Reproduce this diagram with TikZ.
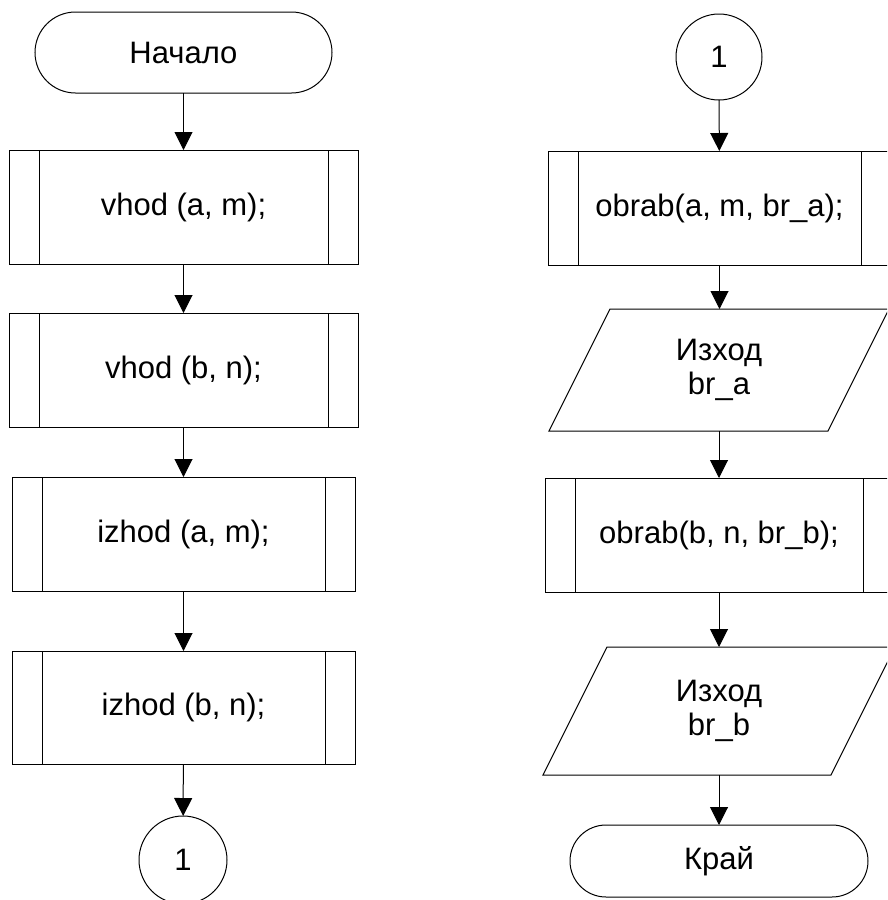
\documentclass[tikz,border=0pt]{standalone}
\usepackage{fontspec}
\setmainfont{Liberation Sans}
\usetikzlibrary{arrows.meta}
\begin{document}
\begin{tikzpicture}[x=1pt,y=-1pt,
  every node/.style={inner sep=0pt,outer sep=0pt,font=\fontsize{31}{34}\selectfont},
  base/.style={line width=1pt,draw=black},
  terminal/.style={base,rectangle,minimum width=#1},
  subproc/.style={base,rectangle,minimum height=114pt,
    path picture={
      \draw[line width=1pt]
        ([xshift=30pt]path picture bounding box.north west) --
        ([xshift=30pt]path picture bounding box.south west)
        ([xshift=-30pt]path picture bounding box.north east) --
        ([xshift=-30pt]path picture bounding box.south east);}},
  connector/.style={base,circle,minimum size=#1},
  iobox/.style={rectangle,align=center},
  flow/.style={line width=1pt,-{Triangle[length=18pt,width=18pt]}}]
\useasboundingbox (0,0) rectangle (887,900);
\clip (0,0) rectangle (887,900);

% left column
\node[terminal=297pt,minimum height=81pt,rounded corners=40.5pt] (start) at (183.5,52.5) {Начало};
\node[subproc,minimum width=349pt] (b1) at (183.5,207) {vhod (a, m);};
\node[subproc,minimum width=349pt] (b2) at (183.5,370) {vhod (b, n);};
\node[subproc,minimum width=343pt] (b3) at (183.5,534) {izhod (a, m);};
\node[subproc,minimum width=343pt,minimum height=113pt] (b4) at (183.5,707.5) {izhod (b, n);};
\node[connector=88pt] (c1) at (183,860) {1};

% right column
\node[connector=86pt] (c2) at (719,57) {1};
\node[subproc,minimum width=343pt] (r1) at (719.5,208) {obrab(a, m, br\_a);};
\node[iobox,minimum width=340pt,minimum height=122pt] (p1) at (719,370) {Изход\\br\_a};
\node[subproc,minimum width=348pt] (r2) at (719,535) {obrab(b, n, br\_b);};
\node[iobox,minimum width=352pt,minimum height=128pt] (p2) at (719,711) {Изход\\br\_b};
\node[terminal=298pt,minimum height=72pt,rounded corners=36pt] (end) at (719,861) {Край};

% parallelogram outlines of the output blocks
\draw[base,line join=miter] (p1.south west) -- ([xshift=-61pt]p1.south east) -- (p1.north east) -- ([xshift=61pt]p1.north west) -- cycle;
\draw[base,line join=miter] (p2.south west) -- ([xshift=-64pt]p2.south east) -- (p2.north east) -- ([xshift=64pt]p2.north west) -- cycle;

% flow lines
\draw[flow] (start) -- (b1);
\draw[flow] (b1) -- (b2);
\draw[flow] (b2) -- (b3);
\draw[flow] (b3) -- (b4);
\draw[flow] (b4) -- (c1);
\draw[flow] (c2) -- (r1);
\draw[flow] (r1.south) -- (r1.south |- p1.north);
\draw[flow] (p1.south) -- (p1.south |- r2.north);
\draw[flow] (r2.south) -- (r2.south |- p2.north);
\draw[flow] (p2.south) -- (p2.south |- end.north);
\end{tikzpicture}
\end{document}
